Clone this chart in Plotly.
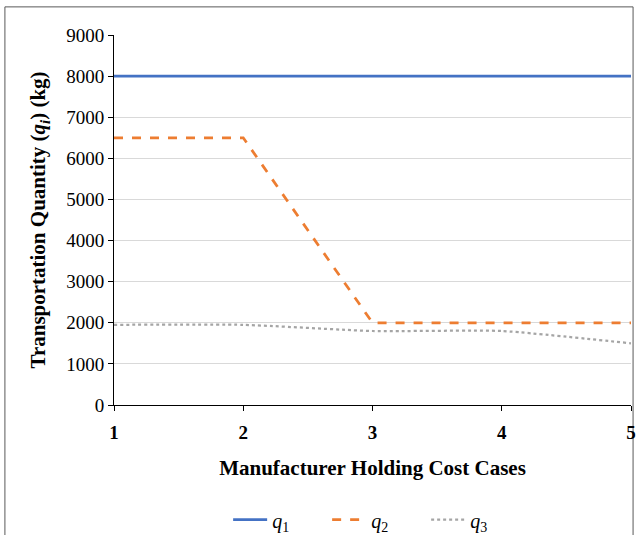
import plotly.graph_objects as go

# Manufacturer holding cost cases and transportation quantities (kg)
cases = [1, 2, 3, 4, 5]
q1 = [8000, 8000, 8000, 8000, 8000]
q2 = [6500, 6500, 2000, 2000, 2000]
q3 = [1950, 1950, 1800, 1800, 1500]

SERIF = "Liberation Serif"

fig = go.Figure()
fig.add_trace(go.Scatter(x=cases, y=q1, mode="lines", name="<i>q</i><sub>1</sub>",
                         line=dict(color="#4472C4", width=2.75)))
fig.add_trace(go.Scatter(x=cases, y=q2, mode="lines", name="<i>q</i><sub>2</sub>",
                         line=dict(color="#ED7D31", width=2.75, dash="dash")))
fig.add_trace(go.Scatter(x=cases, y=q3, mode="lines", name="<i>q</i><sub>3</sub>",
                         line=dict(color="#A5A5A5", width=2.25, dash="dot",
                                   shape="spline", smoothing=0.5)))

# chart area border
fig.add_shape(type="rect", xref="paper", yref="paper",
              x0=-0.211, x1=1.004, y0=-0.45, y1=1.076,
              line=dict(color="#595959", width=1), layer="below")

fig.update_layout(
    width=638, height=535,
    margin=dict(l=114, r=7, t=35, b=130, autoexpand=False),
    paper_bgcolor="white", plot_bgcolor="white",
    font=dict(family=SERIF, color="#000000", size=19),
    showlegend=True,
    legend=dict(orientation="h", x=0.508, xanchor="center", y=-0.31, yanchor="middle",
                font=dict(family=SERIF, size=20), itemwidth=34,
                entrywidth=50, entrywidthmode="pixels",
                tracegroupgap=0),
    xaxis=dict(
        range=[1, 5], tickvals=cases, ticktext=[f"<b>{c}</b>" for c in cases],
        showgrid=False, zeroline=False, automargin=False,
        showline=True, linecolor="#000000", linewidth=1,
        ticks="outside", ticklen=5, tickcolor="#000000",
        ticklabelstandoff=5,
        tickfont=dict(family=SERIF, size=19),
        title=dict(text="<b>Manufacturer Holding Cost Cases</b>",
                   font=dict(family=SERIF, size=21), standoff=18),
    ),
    yaxis=dict(
        range=[0, 9000], dtick=1000, tickformat="d",
        showgrid=True, gridcolor="#D9D9D9", gridwidth=1, zeroline=False,
        automargin=False,
        showline=True, linecolor="#000000", linewidth=1,
        ticks="outside", ticklen=5, tickcolor="#000000",
        tickfont=dict(family=SERIF, size=19),
        title=dict(text="<b>Transportation Quantity (<i>q<sub>i</sub></i>) (kg)</b>",
                   font=dict(family=SERIF, size=21), standoff=14),
    ),
)

fig.write_html("out.html")
